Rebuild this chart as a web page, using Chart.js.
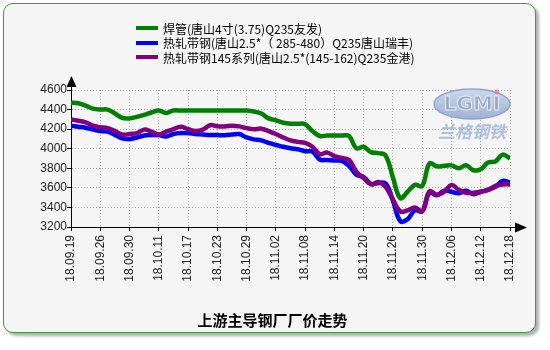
<!DOCTYPE html>
<html><head><meta charset="utf-8">
<script src="https://cdn.jsdelivr.net/npm/chart.js@4/dist/chart.umd.min.js"></script>
<style>
html,body{margin:0;padding:0;background:#fff;}
#wrap{position:relative;width:550px;height:350px;overflow:hidden;}
#card{position:absolute;left:3px;top:3px;width:531px;height:328px;border:1.5px solid #3f9a3f;border-radius:10px;background:#f5f5f5;box-shadow:3px 3px 3px #b0b0b0;}
#cv{position:absolute;left:0;top:0;}
#legend{position:absolute;left:136px;top:21px;font:12px "Noto Sans CJK SC",sans-serif;color:#000;}
.row{height:14.5px;display:flex;align-items:center;white-space:nowrap;}
.sw{width:22px;height:4px;margin-right:5px;}
#title{position:absolute;left:0;width:545px;top:309px;text-align:center;font:bold 15px "Noto Sans CJK SC",sans-serif;color:#000;}
</style></head>
<body>
<div id="wrap">
<div id="card"></div>
<canvas id="cv" width="550" height="350"></canvas>
<div id="legend"></div>
<div id="title">上游主导钢厂厂价走势</div>
</div>
<script>
const tickLabels = ["18.09.19","18.09.26","18.09.30","18.10.11","18.10.17","18.10.23","18.10.29","18.11.02","18.11.08","18.11.14","18.11.20","18.11.26","18.11.30","18.12.06","18.12.12","18.12.18"];
const seriesNames = ["焊管(唐山4寸(3.75)Q235友发)","热轧带钢(唐山2.5*（ 285-480）Q235唐山瑞丰)","热轧带钢145系列(唐山2.5*(145-162)Q235金港)"];
const seriesColors = ["#008000","#0000ff","#800080"];
const weldedPipe = [4470,4465,4440,4410,4400,4400,4360,4315,4310,4325,4345,4370,4390,4365,4390,4390,4390,4390,4390,4390,4390,4390,4390,4390,4390,4380,4360,4310,4290,4265,4255,4255,4250,4180,4130,4135,4135,4135,4130,4005,4020,3965,3955,3930,3705,3495,3560,3630,3620,3850,3820,3825,3830,3800,3830,3780,3790,3860,3870,3940,3900];
const stripRuifeng = [4235,4225,4215,4195,4180,4175,4140,4105,4100,4115,4135,4140,4140,4125,4150,4160,4160,4150,4145,4140,4140,4138,4145,4150,4115,4095,4085,4060,4040,4020,4005,3995,3975,3970,3890,3885,3880,3875,3825,3735,3710,3640,3650,3645,3470,3260,3280,3370,3360,3550,3525,3570,3560,3545,3570,3535,3560,3580,3610,3670,3655];
const strip145 = [4300,4285,4270,4235,4220,4210,4180,4145,4150,4160,4195,4175,4145,4175,4200,4225,4200,4180,4195,4240,4230,4228,4235,4228,4210,4198,4205,4180,4150,4115,4085,4070,4060,4020,3945,3960,3925,3905,3885,3765,3700,3635,3660,3610,3480,3360,3370,3400,3360,3565,3530,3560,3630,3580,3550,3550,3560,3580,3620,3635,3635];
const pointsPerLabel = 4;

const leg = document.getElementById('legend');
seriesNames.forEach((n,i)=>{
  const r=document.createElement('div');r.className='row';
  const s=document.createElement('div');s.className='sw';s.style.background=seriesColors[i];
  const t=document.createElement('span');t.textContent=n;
  r.appendChild(s);r.appendChild(t);leg.appendChild(r);
});

const toXY = arr => arr.map((v,i)=>({x:i,y:v}));
const allSeries=[weldedPipe,stripRuifeng,strip145];

const deco = {
  id:'deco',
  beforeDatasetsDraw(chart){
    const ctx=chart.ctx;
    ctx.save();
    const cx=472, cy=104;
    const g=ctx.createLinearGradient(0,cy-15,0,cy+15);
    g.addColorStop(0,'rgba(200,212,232,0.9)');g.addColorStop(1,'rgba(150,172,208,0.9)');
    ctx.beginPath();ctx.ellipse(cx,cy,38,15,0,0,Math.PI*2);ctx.fillStyle=g;ctx.fill();
    ctx.lineWidth=1.5;ctx.strokeStyle='rgba(120,150,200,0.8)';ctx.stroke();
    ctx.font='bold 20px "DejaVu Sans"';ctx.textAlign='center';ctx.textBaseline='middle';
    ctx.fillStyle='rgba(150,165,195,0.95)';ctx.strokeStyle='rgba(235,240,250,0.9)';ctx.lineWidth=1;
    ctx.fillText('LGMI',cx,cy+1);ctx.strokeText('LGMI',cx,cy+1);
    ctx.beginPath();ctx.arc(cx+25,cy-12,2.5,0,Math.PI*2);ctx.fillStyle='rgba(230,120,140,0.8)';ctx.fill();
    ctx.font='italic bold 17px "Noto Sans CJK SC"';ctx.fillStyle='rgba(150,175,215,0.75)';
    ctx.fillText('兰格钢铁',cx,cy+28);
    ctx.restore();
  },
  afterDraw(chart){
    const ctx=chart.ctx, a=chart.chartArea;
    ctx.save();ctx.strokeStyle='#000';ctx.fillStyle='#000';ctx.lineWidth=1;
    ctx.beginPath();ctx.moveTo(a.left+0.5,a.top);ctx.lineTo(a.left+0.5,a.top-5);ctx.stroke();
    ctx.beginPath();ctx.moveTo(a.left+0.5,a.top-14);ctx.lineTo(a.left-4.5,a.top-3);ctx.lineTo(a.left+5.5,a.top-3);ctx.closePath();ctx.fill();
    ctx.beginPath();ctx.moveTo(a.right,a.bottom+0.5);ctx.lineTo(a.right+6,a.bottom+0.5);ctx.stroke();
    ctx.beginPath();ctx.moveTo(a.right+17,a.bottom+0.5);ctx.lineTo(a.right+5,a.bottom-4.5);ctx.lineTo(a.right+5,a.bottom+5.5);ctx.closePath();ctx.fill();
    ctx.restore();
  }
};

new Chart(document.getElementById('cv'),{
  type:'line',
  data:{datasets:allSeries.map((s,i)=>({
    label:seriesNames[i],data:toXY(s),borderColor:seriesColors[i],backgroundColor:seriesColors[i],
    borderWidth:4.5,pointRadius:0,tension:0.4,fill:false,order:2-i
  }))},
  options:{
    responsive:false,animation:false,
    layout:{padding:{left:0,right:40,top:90,bottom:60}},
    plugins:{legend:{display:false},tooltip:{enabled:false}},
    scales:{
      x:{type:'linear',min:0,max:(tickLabels.length-1)*pointsPerLabel,
        afterFit(s){s.height=63;},
        ticks:{stepSize:pointsPerLabel,autoSkip:false,maxRotation:90,minRotation:90,padding:4,color:'#222',
          font:{family:'Arial, "Liberation Sans"',size:12},
          callback:v=>tickLabels[Math.round(v/pointsPerLabel)]},
        grid:{color:'#aaa',tickColor:'#000',tickLength:4,tickBorderDash:[]},
        border:{color:'#000',width:1,dash:[1,2]}},
      y:{min:3200,max:4600,
        afterFit(s){s.width=71;},
        ticks:{stepSize:200,padding:0,color:'#222',font:{family:'Arial, "Liberation Sans"',size:12},
          callback:v=>String(v)},
        grid:{color:'#aaa',tickColor:'#000',tickLength:4,tickBorderDash:[]},
        border:{color:'#000',width:1,dash:[1,2]}}
    }
  },
  plugins:[deco]
});
</script>
</body></html>
